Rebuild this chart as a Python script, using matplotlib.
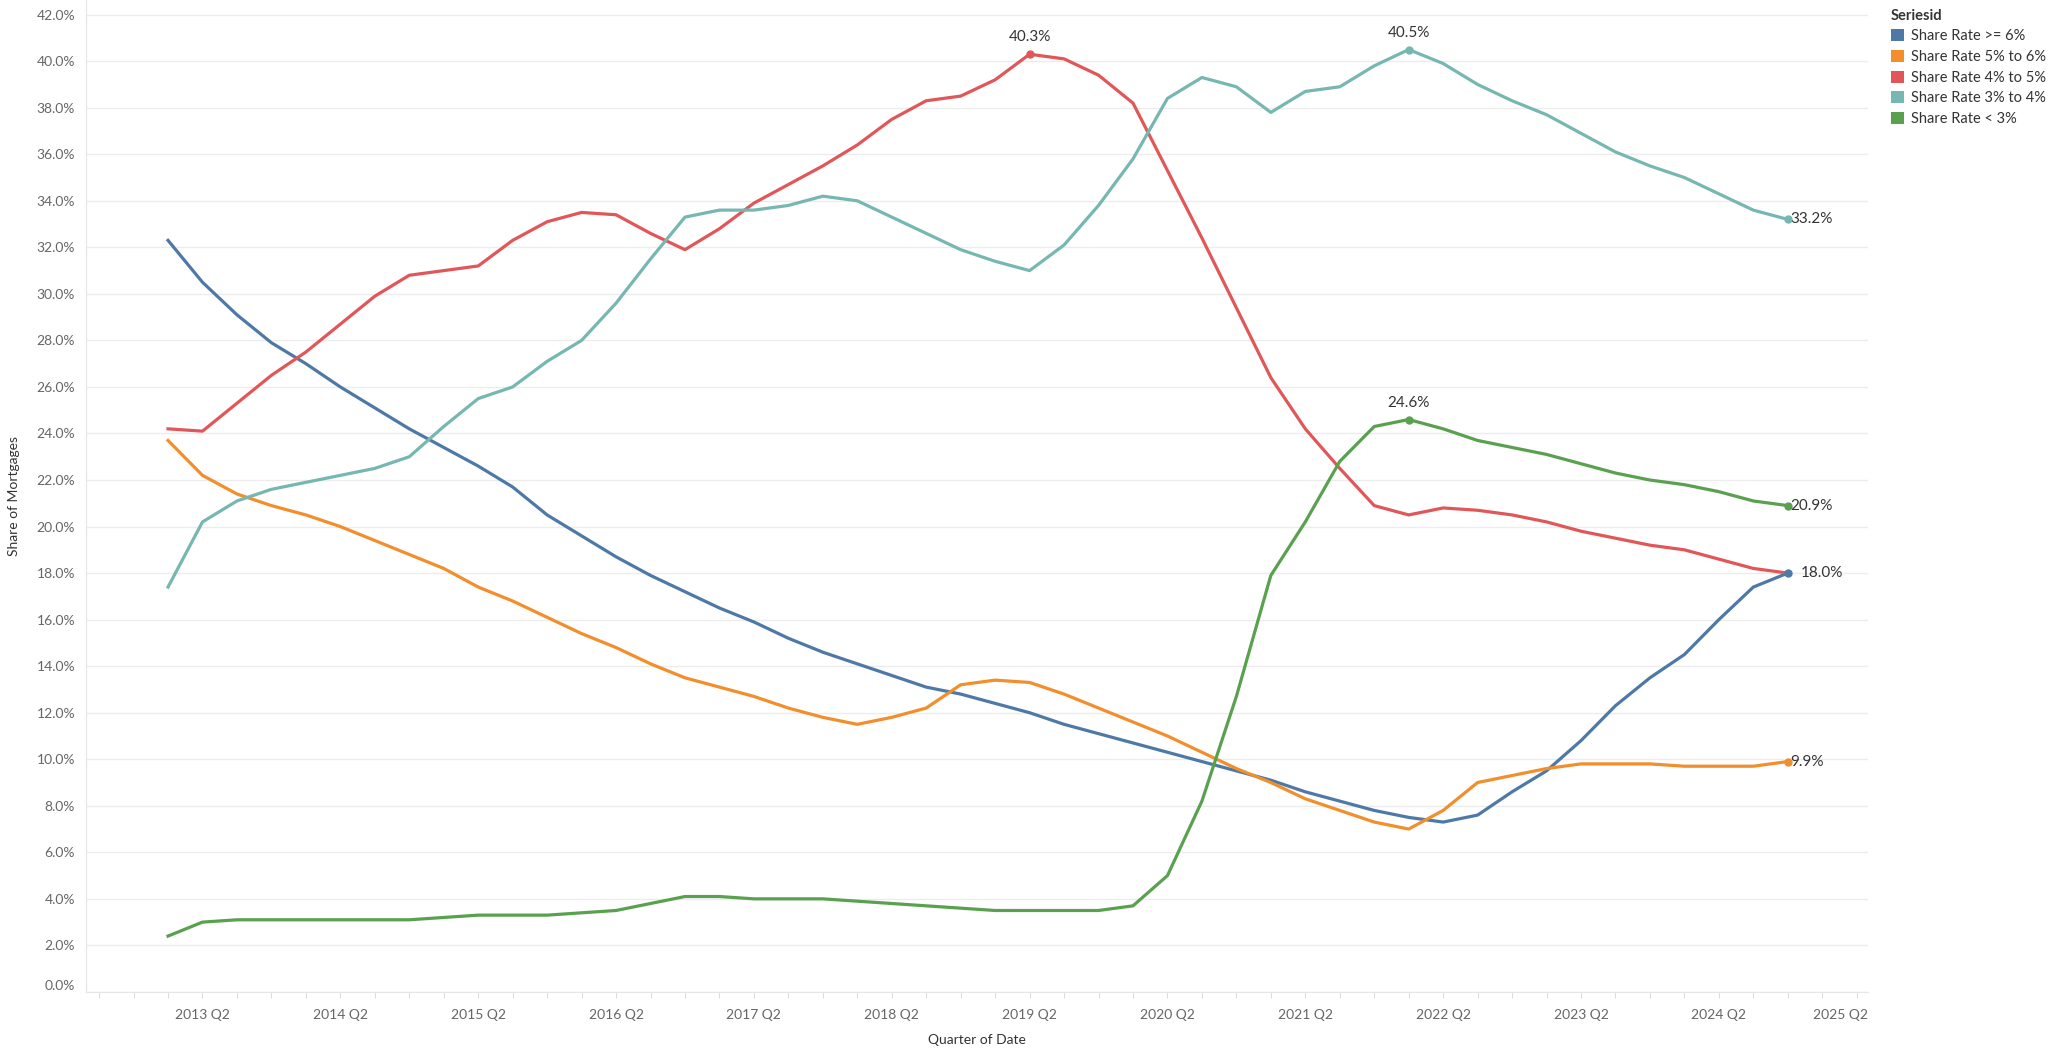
import numpy as np
import matplotlib
matplotlib.use("Agg")
import matplotlib.pyplot as plt
from matplotlib.patches import Patch
from matplotlib.transforms import ScaledTranslation

plt.rcParams['font.family'] = ['Lato', 'DejaVu Sans']

# quarterly data, 2013 Q1 .. 2024 Q4
quarters = ["%d Q%d" % (y, q) for y in range(2013, 2025) for q in range(1, 5)]

share_6_plus = [32.3, 30.5, 29.1, 27.9, 27.0, 26.0, 25.1, 24.2, 23.4, 22.6,
                21.7, 20.5, 19.6, 18.7, 17.9, 17.2, 16.5, 15.9, 15.2, 14.6,
                14.1, 13.6, 13.1, 12.8, 12.4, 12.0, 11.5, 11.1, 10.7, 10.3,
                9.9, 9.5, 9.1, 8.6, 8.2, 7.8, 7.5, 7.3, 7.6, 8.6,
                9.5, 10.8, 12.3, 13.5, 14.5, 16.0, 17.4, 18.0]
share_5_6 = [23.7, 22.2, 21.4, 20.9, 20.5, 20.0, 19.4, 18.8, 18.2, 17.4,
             16.8, 16.1, 15.4, 14.8, 14.1, 13.5, 13.1, 12.7, 12.2, 11.8,
             11.5, 11.8, 12.2, 13.2, 13.4, 13.3, 12.8, 12.2, 11.6, 11.0,
             10.3, 9.6, 9.0, 8.3, 7.8, 7.3, 7.0, 7.8, 9.0, 9.3,
             9.6, 9.8, 9.8, 9.8, 9.7, 9.7, 9.7, 9.9]
share_4_5 = [24.2, 24.1, 25.3, 26.5, 27.5, 28.7, 29.9, 30.8, 31.0, 31.2,
             32.3, 33.1, 33.5, 33.4, 32.6, 31.9, 32.8, 33.9, 34.7, 35.5,
             36.4, 37.5, 38.3, 38.5, 39.2, 40.3, 40.1, 39.4, 38.2, 35.3,
             32.4, 29.4, 26.4, 24.2, 22.5, 20.9, 20.5, 20.8, 20.7, 20.5,
             20.2, 19.8, 19.5, 19.2, 19.0, 18.6, 18.2, 18.0]
share_3_4 = [17.4, 20.2, 21.1, 21.6, 21.9, 22.2, 22.5, 23.0, 24.3, 25.5,
             26.0, 27.1, 28.0, 29.6, 31.5, 33.3, 33.6, 33.6, 33.8, 34.2,
             34.0, 33.3, 32.6, 31.9, 31.4, 31.0, 32.1, 33.8, 35.8, 38.4,
             39.3, 38.9, 37.8, 38.7, 38.9, 39.8, 40.5, 39.9, 39.0, 38.3,
             37.7, 36.9, 36.1, 35.5, 35.0, 34.3, 33.6, 33.2]
share_under_3 = [2.4, 3.0, 3.1, 3.1, 3.1, 3.1, 3.1, 3.1, 3.2, 3.3,
                 3.3, 3.3, 3.4, 3.5, 3.8, 4.1, 4.1, 4.0, 4.0, 4.0,
                 3.9, 3.8, 3.7, 3.6, 3.5, 3.5, 3.5, 3.5, 3.7, 5.0,
                 8.2, 12.7, 17.9, 20.2, 22.8, 24.3, 24.6, 24.2, 23.7, 23.4,
                 23.1, 22.7, 22.3, 22.0, 21.8, 21.5, 21.1, 20.9]

names = ["Share Rate >= 6%", "Share Rate 5% to 6%", "Share Rate 4% to 5%",
         "Share Rate 3% to 4%", "Share Rate < 3%"]
colors = ["#4E79A7", "#F28E2B", "#E15759", "#76B7B2", "#59A14F"]
series = [share_6_plus, share_5_6, share_4_5, share_3_4, share_under_3]

x = np.arange(len(quarters))

fig = plt.figure(figsize=(20.56, 10.53), dpi=100)
ax = fig.add_axes([0.042, 0.058, 0.8666, 0.942])

for vals, c in zip(series, colors):
    ax.plot(x, vals, color=c, lw=2.3, solid_joinstyle='round', zorder=3)

# labelled points: (series index, point index, placement)
marks = [(2, 25, 'top'), (3, 36, 'top'), (4, 36, 'top'),
         (3, 47, 'right'), (4, 47, 'right'), (0, 47, 'right2'), (1, 47, 'right')]
for si, pi, pos in marks:
    v = series[si][pi]
    ax.plot(pi, v, 'o', color=colors[si], ms=5, zorder=4)
    txt = "%.1f%%" % v
    if pos == 'top':
        ax.annotate(txt, (pi, v), xytext=(0, 7), textcoords='offset points',
                    ha='center', va='bottom', fontsize=11, color='#333333')
    elif pos == 'right':
        ax.annotate(txt, (pi, v), xytext=(2, 0), textcoords='offset points',
                    ha='left', va='center', fontsize=11, color='#333333')
    else:
        ax.annotate(txt, (pi, v), xytext=(9, 0), textcoords='offset points',
                    ha='left', va='center', fontsize=11, color='#333333')

ax.set_xlim(-2.37, 49.33)
ax.set_ylim(0, 42.63)

yt = np.arange(0, 43, 2)
ax.set_yticks(yt)
ax.set_yticklabels(["%.1f%%" % t for t in yt])
ax.get_yticklabels()[0].set_va('bottom')

xt = np.arange(1, 50, 4)
ax.set_xticks(xt)
ax.set_xticklabels(["%d Q2" % y for y in range(2013, 2026)])
ax.set_xticks(np.arange(-2, 50), minor=True)

ax.tick_params(axis='y', length=0, pad=8, labelsize=10, labelcolor='#666666')
ax.tick_params(axis='x', which='both', length=4, width=0.8, color='#dddddd',
               pad=8, labelsize=10, labelcolor='#666666')

# last label is pushed inside the plot edge
last = ax.get_xticklabels()[-1]
last.set_ha('right')
last.set_transform(last.get_transform() + ScaledTranslation(0.11, 0, fig.dpi_scale_trans))

ax.grid(axis='y', color='#ececec', lw=1)
ax.set_axisbelow(True)
for s in ['top', 'right']:
    ax.spines[s].set_visible(False)
for s in ['left', 'bottom']:
    ax.spines[s].set_color('#e6e6e6')

ax.set_ylabel("Share of Mortgages", fontsize=10, color='#333333', labelpad=12)
ax.set_xlabel("Quarter of Date", fontsize=10, color='#333333', labelpad=10)

handles = [Patch(facecolor=c, edgecolor='none') for c in colors]
leg = fig.legend(handles, names, title="Seriesid", loc='upper left',
                 bbox_to_anchor=(0.9155, 1.0), frameon=False, fontsize=10.5,
                 title_fontsize=10.5, handlelength=0.9, handleheight=0.9,
                 handletextpad=0.45, labelspacing=0.45, borderaxespad=0.2,
                 alignment='left')
leg.get_title().set_fontweight('bold')
leg.get_title().set_color('#333333')
for t in leg.get_texts():
    t.set_color('#333333')

fig.savefig("out.png", dpi=100)
